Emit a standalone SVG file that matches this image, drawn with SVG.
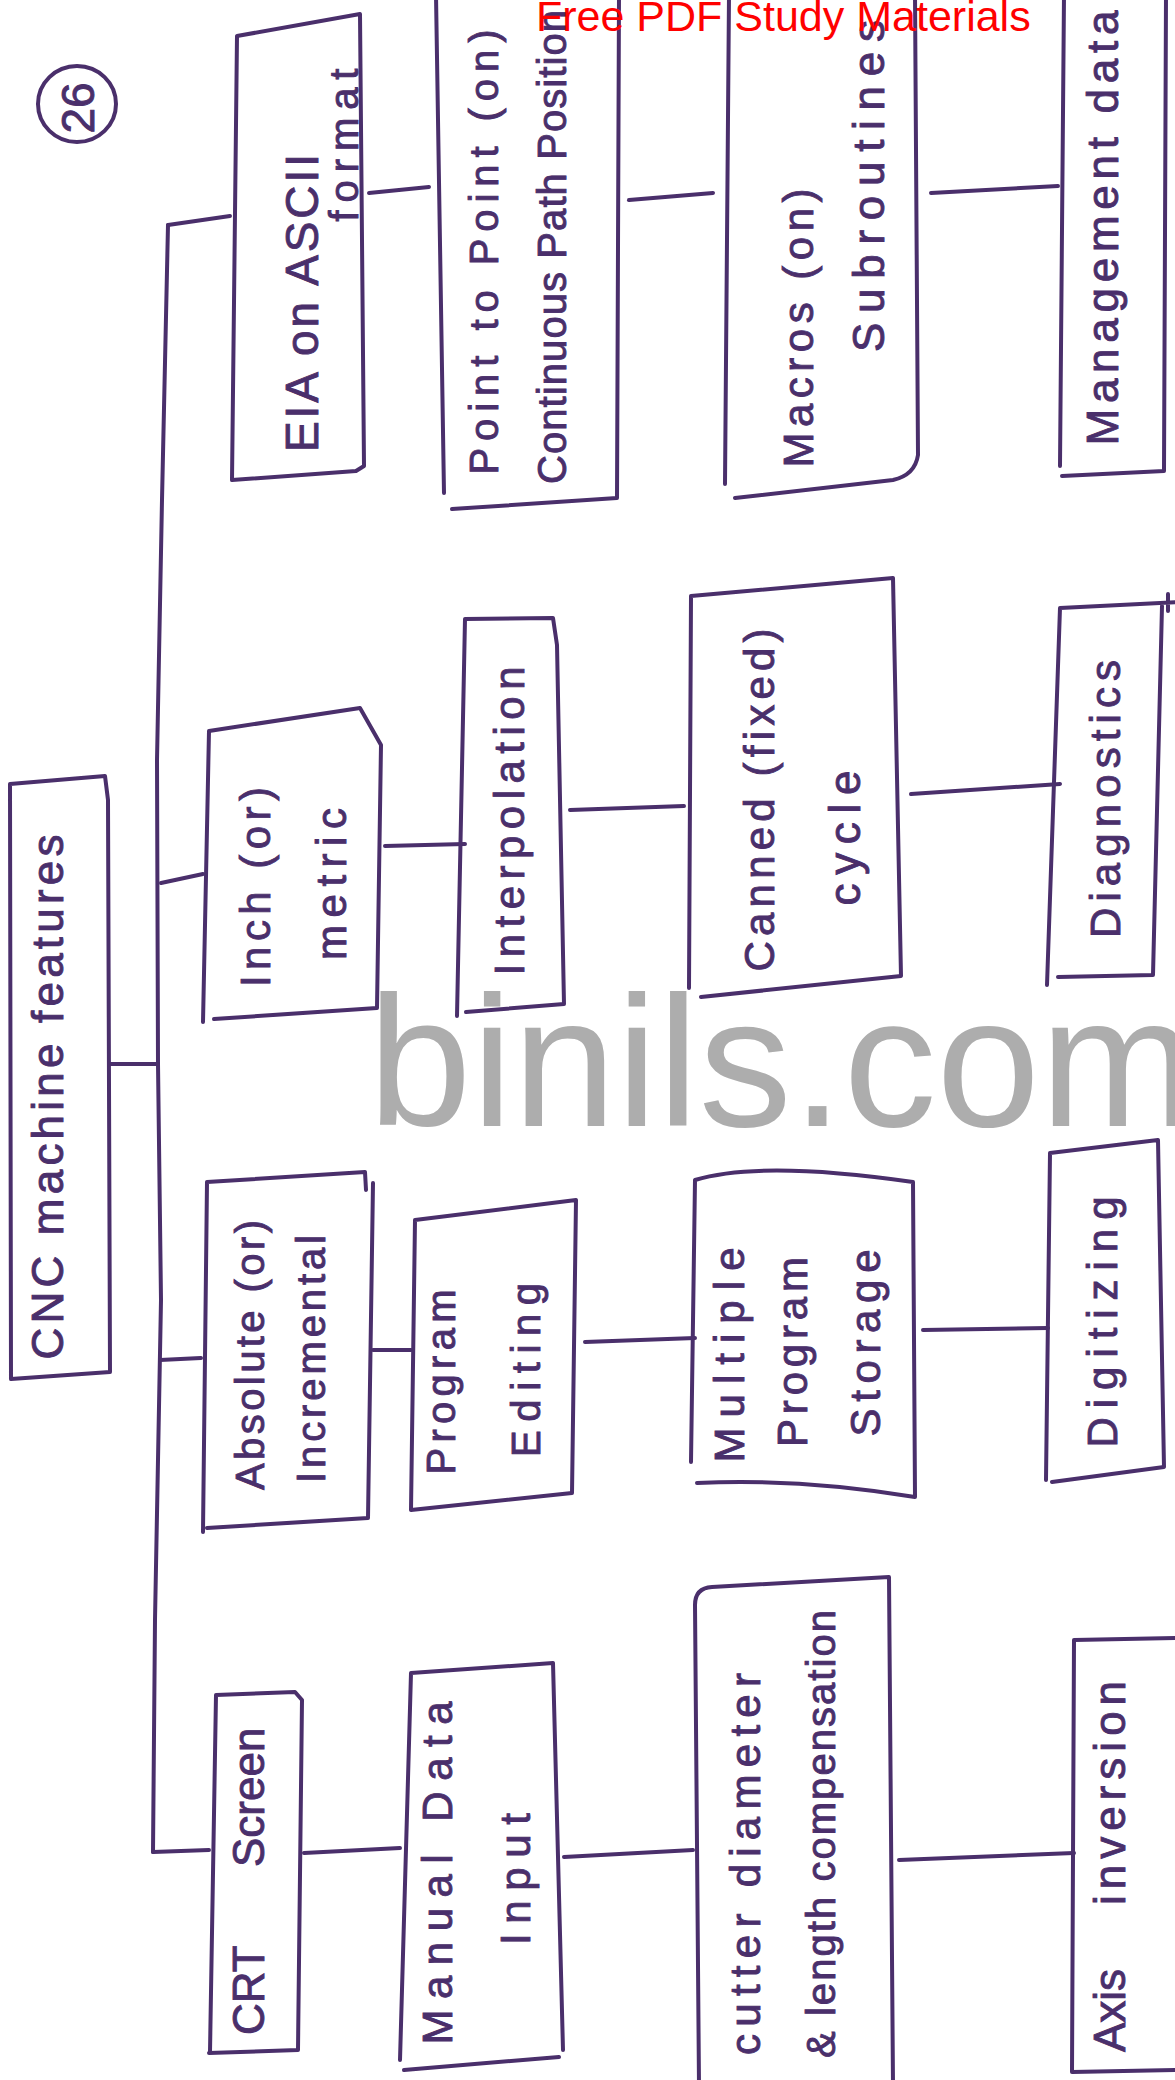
<svg xmlns="http://www.w3.org/2000/svg" width="1175" height="2080" viewBox="0 0 1175 2080">
  <style>
    .ink{fill:none;stroke:#4a2f6b;stroke-width:4;stroke-linecap:round;stroke-linejoin:round}
    .lbl{font-family:"Liberation Sans",Arial,sans-serif;fill:#4a2f6b;stroke:#4a2f6b;stroke-width:0.9;font-size:42px}
    .head{font-family:"Liberation Sans",Arial,sans-serif;fill:#ff0000;font-size:43px}
    .wm{font-family:"Liberation Sans",Arial,sans-serif;fill:#adadad;font-size:186px}
  </style>
  <rect width="1175" height="2080" fill="#ffffff"/>

  <!-- page number -->
  <g id="page-number">
    <ellipse class="ink" cx="77" cy="104" rx="39" ry="38"/>
    <text class="lbl" style="font-size:46px" text-anchor="middle" transform="translate(94,108) rotate(-90)">26</text>
  </g>

  <!-- connectors: trunk and branches -->
  <g id="connectors" class="ink">
    <path d="M168,225 L162,500 L157,760 L158,1064 L161,1300 L155,1620 L153,1852"/>
    <path d="M110,1064 L158,1064"/>
    <!-- row 1 -->
    <path d="M168,225 L230,216"/>
    <path d="M369,193 L429,187"/>
    <path d="M629,200 L713,193"/>
    <path d="M931,193 L1058,186"/>
    <!-- row 2 -->
    <path d="M161,883 L203,874"/>
    <path d="M385,846 L465,844"/>
    <path d="M570,810 L684,806"/>
    <path d="M911,794 L1060,784"/>
    <!-- row 3 -->
    <path d="M160,1360 L201,1358"/>
    <path d="M373,1350 L411,1350"/>
    <path d="M585,1342 L695,1338"/>
    <path d="M923,1330 L1048,1328"/>
    <!-- row 4 -->
    <path d="M153,1852 L209,1850"/>
    <path d="M304,1853 L400,1848"/>
    <path d="M564,1857 L693,1850"/>
    <path d="M899,1860 L1074,1853"/>
  </g>

  <g id="node-root">
    <path class="ink" d="M11,1379 L10,784 L105,776 L108,800 L110,1372 Z"/>
    <text class="lbl" style="font-size:44px" text-anchor="middle" textLength="525" transform="translate(63,1097) rotate(-90)">CNC machine features</text>
  </g>

  <!-- column 1 -->
  <g id="node-eia">
    <path class="ink" d="M232,480 L237,36 L360,14 L364,466 L356,471 Z"/>
    <text class="lbl" style="font-size:46px" text-anchor="middle" textLength="298" transform="translate(318,303) rotate(-90)">EIA on ASCII</text>
    <text class="lbl" style="font-size:40px" text-anchor="middle" textLength="153" transform="translate(358,145) rotate(-90)">format</text>
  </g>
  <g id="node-inch">
    <path class="ink" d="M203,1022 L209,731 L360,708 L381,745 L377,1008 L214,1019"/>
    <text class="lbl" text-anchor="middle" textLength="200" transform="translate(270,887) rotate(-90)">Inch (or)</text>
    <text class="lbl" text-anchor="middle" textLength="152" transform="translate(346,884) rotate(-90)">metric</text>
  </g>
  <g id="node-absolute">
    <path class="ink" d="M203,1532 L207,1182 L365,1172 L366,1190 M373,1183 L368,1518 L207,1528"/>
    <text class="lbl" style="font-size:40px" text-anchor="middle" textLength="270" transform="translate(264,1355) rotate(-90)">Absolute (or)</text>
    <text class="lbl" style="font-size:40px" text-anchor="middle" textLength="248" transform="translate(325,1359) rotate(-90)">Incremental</text>
  </g>
  <g id="node-crt">
    <path class="ink" d="M210,2052 L216,1695 L295,1692 L302,1700 L298,2050 L209,2053"/>
    <text class="lbl" style="font-size:44px" transform="translate(264,2035) rotate(-90)"><tspan x="0">CRT</tspan><tspan x="168">Screen</tspan></text>
  </g>

  <!-- column 2 -->
  <g id="node-point">
    <path class="ink" d="M436,-5 L444,493 M452,509 L617,498 L619,-5"/>
    <text class="lbl" style="font-size:40px" text-anchor="middle" textLength="445" transform="translate(498,252) rotate(-90)">Point to Point (on)</text>
    <text class="lbl" style="font-size:40px" text-anchor="middle" textLength="474" transform="translate(566,247) rotate(-90)">Continuous Path Position</text>
  </g>
  <g id="node-interpolation">
    <path class="ink" d="M457,1016 L465,619 L553,618 L557,645 L564,1004 L466,1012"/>
    <text class="lbl" text-anchor="middle" textLength="309" transform="translate(524,821) rotate(-90)">Interpolation</text>
  </g>
  <g id="node-editing">
    <path class="ink" d="M411,1510 L415,1220 L576,1200 L572,1493 Z"/>
    <text class="lbl" style="font-size:40px" text-anchor="middle" textLength="185" transform="translate(455,1382) rotate(-90)">Program</text>
    <text class="lbl" style="font-size:40px" text-anchor="middle" textLength="174" transform="translate(540,1370) rotate(-90)">Editing</text>
  </g>
  <g id="node-mdi">
    <path class="ink" d="M400,2060 L411,1673 L553,1663 L563,2050 M404,2070 L559,2057"/>
    <text class="lbl" text-anchor="middle" textLength="343" transform="translate(452,1873) rotate(-90)">Manual Data</text>
    <text class="lbl" text-anchor="middle" textLength="132" transform="translate(530,1879) rotate(-90)">Input</text>
  </g>

  <!-- column 3 -->
  <g id="node-macros">
    <path class="ink" d="M729,-5 L725,484 M735,498 L893,480 Q915,475 918,455 L915,-5"/>
    <text class="lbl" text-anchor="middle" textLength="279" transform="translate(813,328) rotate(-90)">Macros (on)</text>
    <text class="lbl" style="font-size:44px" text-anchor="middle" textLength="332" transform="translate(884,186) rotate(-90)">Subroutines</text>
  </g>
  <g id="node-canned">
    <path class="ink" d="M689,988 L691,596 L893,578 L901,976 L701,997"/>
    <text class="lbl" text-anchor="middle" textLength="343" transform="translate(774,800) rotate(-90)">Canned (fixed)</text>
    <text class="lbl" style="font-size:44px" text-anchor="middle" textLength="135" transform="translate(860,838) rotate(-90)">cycle</text>
  </g>
  <g id="node-storage">
    <path class="ink" d="M691,1462 L695,1180 Q760,1160 913,1182 L915,1497 Q800,1478 697,1483"/>
    <text class="lbl" text-anchor="middle" textLength="215" transform="translate(744,1355) rotate(-90)">Multiple</text>
    <text class="lbl" text-anchor="middle" textLength="190" transform="translate(807,1352) rotate(-90)">Program</text>
    <text class="lbl" text-anchor="middle" textLength="187" transform="translate(880,1343) rotate(-90)">Storage</text>
  </g>
  <g id="node-cutter">
    <path class="ink" d="M699,2085 L695,1605 Q695,1588 712,1587 L889,1577 L893,2085"/>
    <text class="lbl" text-anchor="middle" textLength="382" transform="translate(760,1864) rotate(-90)">cutter diameter</text>
    <text class="lbl" style="font-size:40px" text-anchor="middle" textLength="448" transform="translate(835,1834) rotate(-90)">&amp; length compensation</text>
  </g>

  <!-- column 4 -->
  <g id="node-management">
    <path class="ink" d="M1064,-5 L1060,466 M1062,476 L1164,471 L1166,-5"/>
    <text class="lbl" style="font-size:44px" text-anchor="middle" textLength="435" transform="translate(1118,228) rotate(-90)">Management data</text>
  </g>
  <g id="node-diagnostics">
    <path class="ink" d="M1047,985 L1060,608 L1180,602 M1168,594 L1168,611 M1162,606 L1153,975 L1058,977"/>
    <text class="lbl" text-anchor="middle" textLength="278" transform="translate(1120,799) rotate(-90)">Diagnostics</text>
  </g>
  <g id="node-digitizing">
    <path class="ink" d="M1046,1480 L1050,1153 L1158,1140 L1164,1467 L1052,1482"/>
    <text class="lbl" text-anchor="middle" textLength="251" transform="translate(1117,1322) rotate(-90)">Digitizing</text>
  </g>
  <g id="node-axis">
    <path class="ink" d="M1074,1640 L1072,2072 L1180,2070 M1074,1640 L1180,1638"/>
    <text class="lbl" style="font-size:44px" transform="translate(1125,2052) rotate(-90)"><tspan x="0">Axis</tspan><tspan x="147" letter-spacing="6">inversion</tspan></text>
  </g>

  <!-- page overlays -->
  <text class="head" x="536" y="31">Free PDF Study Materials</text>
  <text class="wm" x="368" y="1126">binils.com</text>
</svg>
